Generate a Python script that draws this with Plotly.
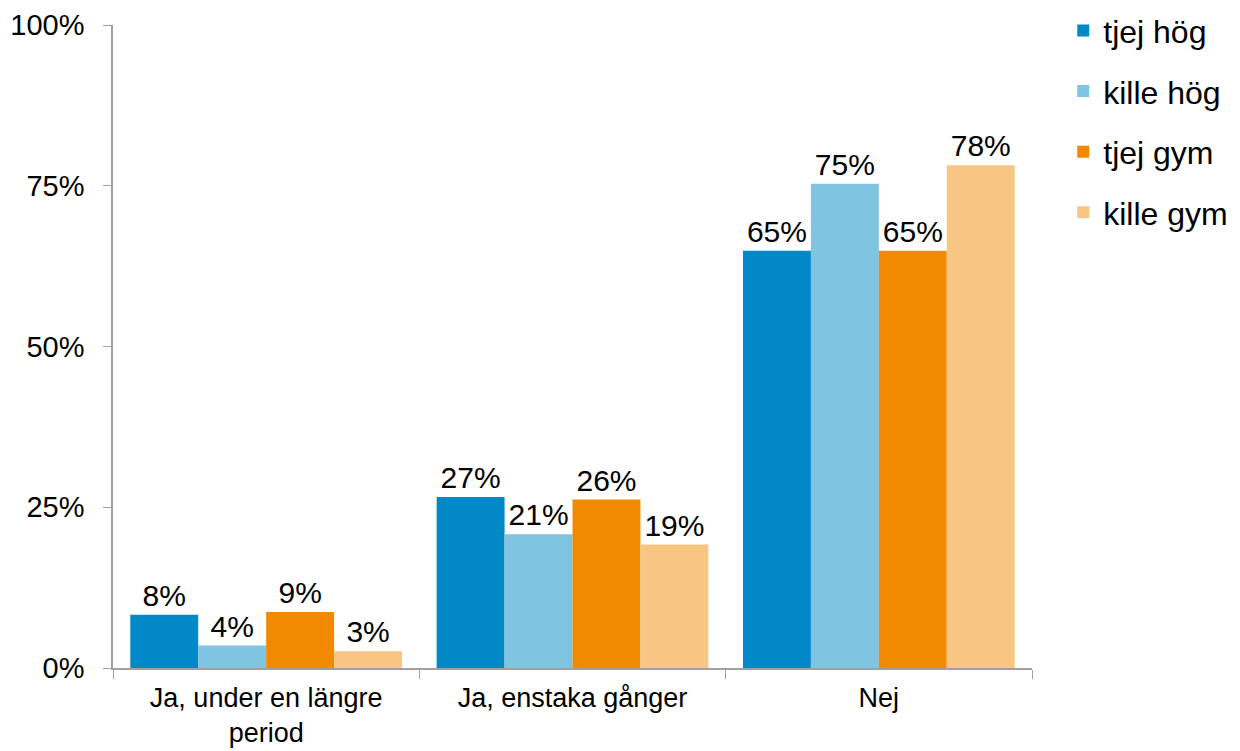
import plotly.graph_objects as go

categories = ["Ja, under en längre<br>period", "Ja, enstaka gånger", "Nej"]
series_names = ["tjej hög", "kille hög", "tjej gym", "kille gym"]
tjej_hog = [8.3, 26.6, 64.9]
kille_hog = [3.5, 20.8, 75.3]
tjej_gym = [8.7, 26.2, 64.9]
kille_gym = [2.6, 19.2, 78.2]
values = [tjej_hog, kille_hog, tjej_gym, kille_gym]
colors = ["#0089C6", "#7FC4E1", "#F18A00", "#F8C582"]
y_ticks = [0, 25, 50, 75, 100]

fig = go.Figure()
for i, (name, vals, col) in enumerate(zip(series_names, values, colors)):
    fig.add_trace(go.Bar(
        x=categories, y=vals, name=name,
        marker=dict(color=col, line=dict(width=0)),
        text=[f"{round(v)}%" for v in vals],
        textposition="outside",
        textfont=dict(family="Liberation Sans, Arial, sans-serif", size=30, color="black"),
        cliponaxis=False,
        legendgroup=f"g{i}",
    ))

fig.update_layout(
    width=1240, height=751,
    barmode="group", bargap=0.113, bargroupgap=0,
    plot_bgcolor="white", paper_bgcolor="white",
    margin=dict(l=105, r=216, t=17, b=91, autoexpand=False),
    font=dict(family="Liberation Sans, Arial, sans-serif", color="black"),
    showlegend=True,
    legend=dict(
        x=1.034, y=1.034, xanchor="left", yanchor="top",
        font=dict(size=32), tracegroupgap=16,
        itemwidth=30,
    ),
)
fig.update_yaxes(
    range=[0, 100], tickvals=y_ticks, ticktext=[f"{t}%" for t in y_ticks],
    showgrid=False, showline=True, linecolor="#A0A0A0", linewidth=1.5,
    ticks="outside", ticklen=8, tickcolor="#A0A0A0",
    tickfont=dict(size=29), zeroline=False, automargin=False,
    ticklabelstandoff=13,
)
fig.update_xaxes(
    showline=True, linecolor="#A0A0A0", linewidth=1.5,
    ticks="outside", tickson="boundaries", ticklen=9, tickcolor="#A0A0A0",
    tickfont=dict(size=27), showgrid=False, automargin=False,
    ticklabelstandoff=5,
)
fig.write_html("out.html")
